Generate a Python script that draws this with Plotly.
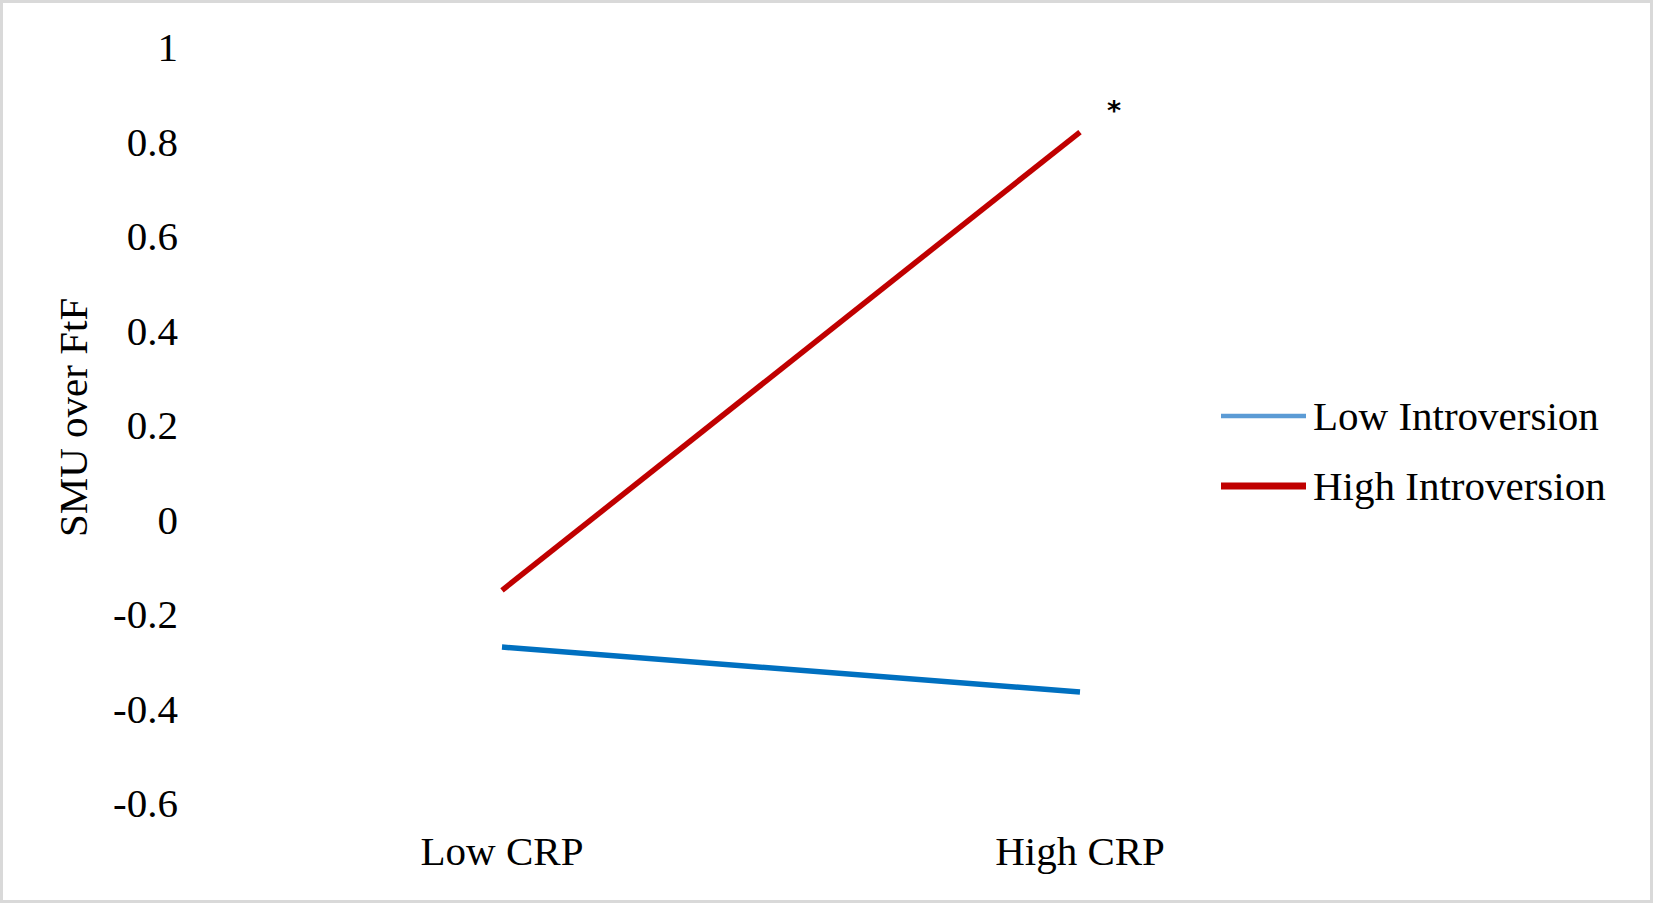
import plotly.graph_objects as go

# ---- data ----
categories = ["Low CRP", "High CRP"]
series_names = ["Low Introversion", "High Introversion"]
low_introversion = [-0.27, -0.365]
high_introversion = [-0.15, 0.82]
y_tick_vals = [-0.6, -0.4, -0.2, 0, 0.2, 0.4, 0.6, 0.8, 1.0]
y_tick_text = ["-0.6", "-0.4", "-0.2", "0", "0.2", "0.4", "0.6", "0.8", "1"]
y_title = "SMU over FtF"
significance_mark = "*"

W, H = 1653, 903
FONT = "Liberation Serif"
FS = 41

plot_colors = ["#0070C0", "#C00000"]
legend_colors = ["#5B9BD5", "#C00000"]
legend_widths = [4.5, 7]

x_pos = list(range(len(categories)))

fig = go.Figure()
for name, vals, col in zip(series_names, [low_introversion, high_introversion], plot_colors):
    fig.add_trace(go.Scatter(
        x=x_pos, y=vals, mode="lines", name=name,
        line=dict(color=col, width=5.5), showlegend=False, hoverinfo="skip"))

def px(x):
    return x / W

def py(y):
    return 1 - y / H

L, R = 213, 1369
T, B = 47, 803

fig.update_layout(
    width=W, height=H, autosize=False,
    margin=dict(l=0, r=0, t=0, b=0, pad=0),
    paper_bgcolor="white", plot_bgcolor="white",
    font=dict(family=FONT, size=FS, color="black"),
    showlegend=False,
    xaxis=dict(domain=[px(L), px(R)], range=[-0.5, 1.5],
               tickvals=x_pos, ticktext=categories, showgrid=False,
               zeroline=False, showline=False, ticks="",
               ticklabelstandoff=20, automargin=False,
               tickfont=dict(family=FONT, size=FS, color="black")),
    yaxis=dict(domain=[py(B), py(T)], range=[-0.6, 1.0],
               tickvals=y_tick_vals, ticktext=y_tick_text, showgrid=False,
               zeroline=False, showline=False, ticks="",
               ticklabelstandoff=34, automargin=False,
               tickfont=dict(family=FONT, size=FS, color="black")),
)

# y-axis title
fig.add_annotation(text=y_title, xref="paper", yref="paper", x=px(73), y=py(418),
                   xanchor="center", yanchor="middle", textangle=-90, showarrow=False,
                   font=dict(family=FONT, size=FS, color="black"))

# significance asterisk next to the high CRP / high introversion point
fig.add_annotation(text="<b>" + significance_mark + "</b>", xref="x", yref="y",
                   x=x_pos[1], y=high_introversion[1],
                   xanchor="center", yanchor="middle", xshift=34, yshift=22, showarrow=False,
                   font=dict(family="DejaVu Sans", size=27, color="black"))

# custom legend
leg_rows = [416, 486]
for name, col, lw, yy in zip(series_names, legend_colors, legend_widths, leg_rows):
    fig.add_shape(type="line", xref="paper", yref="paper",
                  x0=px(1221), x1=px(1306), y0=py(yy), y1=py(yy),
                  line=dict(color=col, width=lw))
    fig.add_annotation(text=name, xref="paper", yref="paper", x=px(1311), y=py(yy),
                       xanchor="left", yanchor="middle", showarrow=False,
                       font=dict(family=FONT, size=FS, color="black"))

# outer border
fig.add_shape(type="rect", xref="paper", yref="paper",
              x0=px(1.5), x1=px(W - 1.5), y0=py(H - 1.5), y1=py(1.5),
              line=dict(color="#D9D9D9", width=3), fillcolor="rgba(0,0,0,0)", layer="above")

fig.write_html("out.html", config={"displayModeBar": False},
               post_script="document.body.style.margin='0';document.body.style.overflow='hidden';")
